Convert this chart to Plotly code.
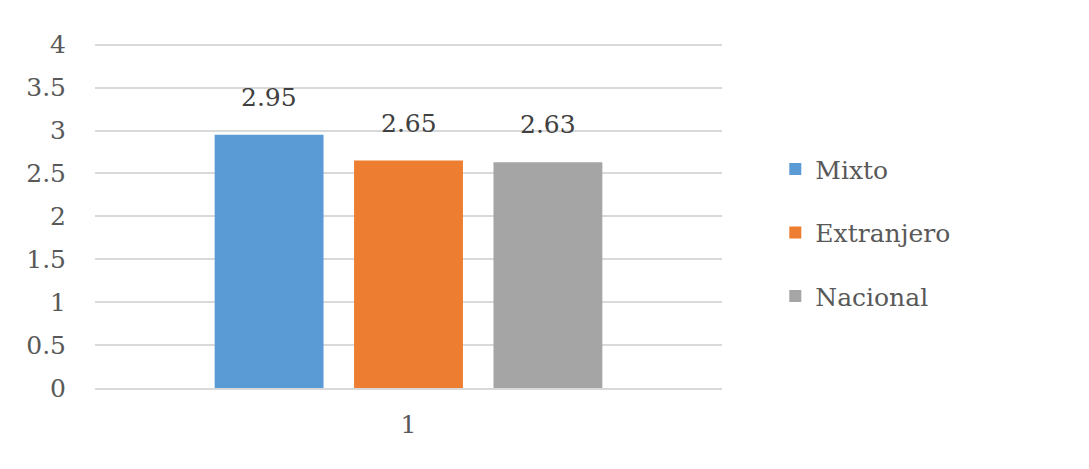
import plotly.graph_objects as go

# Chart data
categories = ['1']
series_names = ['Mixto', 'Extranjero', 'Nacional']
series_values = [2.95, 2.65, 2.63]
series_colors = ['#5B9BD5', '#ED7D31', '#A5A5A5']
y_ticks = [0, 0.5, 1, 1.5, 2, 2.5, 3, 3.5, 4]

# Liberation Serif does not resolve in the headless browser, DejaVu Serif does
FONT = 'DejaVu Serif'
FSIZE = 25

data = []
for i, (name, val) in enumerate(zip(series_names, series_values)):
    data.append(go.Bar(
        x=categories,
        y=[val],
        name=name,
        marker=dict(color=series_colors[i], line_width=0),
        legendgroup=name,
    ))

fig = go.Figure(data=data)

# Value labels above each bar (x=0 is the index of the only category)
shifts = [-139.5, 0, 139.5]
for val, dx in zip(series_values, shifts):
    fig.add_annotation(
        x=0, y=val, text=f'{val:.2f}',
        showarrow=False, xshift=dx, yshift=21, yanchor='bottom',
        font=dict(family=FONT, size=FSIZE, color='#404040'),
    )

# page body has an 8px margin, so pull the plot area back by that much
fig.update_layout(
    width=1089, height=469,
    margin=dict(l=87, r=375, t=35, b=89),
    paper_bgcolor='white', plot_bgcolor='white',
    barmode='group', bargap=0.333, bargroupgap=0.219,
    font=dict(family=FONT, size=FSIZE, color='#595959'),
    legend=dict(
        x=1.085, y=0.45, xanchor='left', yanchor='middle',
        traceorder='grouped', tracegroupgap=28,
        font=dict(family=FONT, size=FSIZE, color='#595959'),
        itemwidth=30,
    ),
    yaxis=dict(
        range=[0, 4.02], tickvals=y_ticks, ticktext=[f'{v:g}' for v in y_ticks],
        showgrid=True, gridcolor='#D9D9D9', gridwidth=2,
        zeroline=False, showline=False, ticks='', ticklabelstandoff=28,
    ),
    xaxis=dict(
        type='category', range=[-0.5, 0.5],
        showgrid=False, showline=True, linecolor='#D9D9D9', linewidth=2,
        ticks='', ticklabelstandoff=13,
    ),
)

fig.write_html('out.html')
